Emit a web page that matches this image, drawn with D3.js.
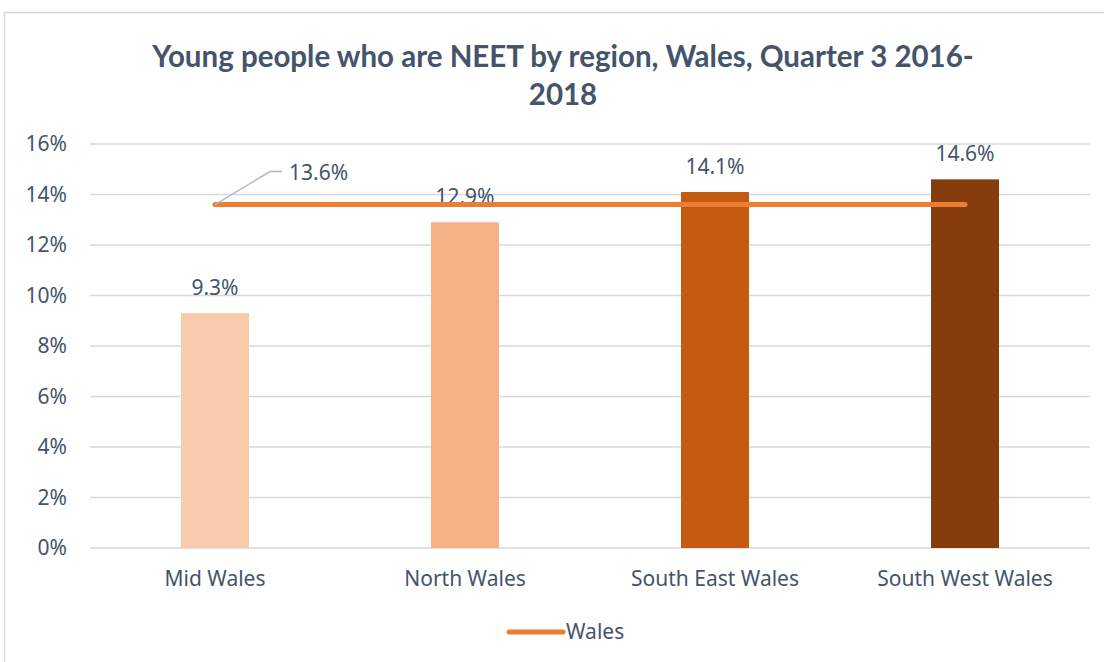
<!DOCTYPE html>
<html>
<head>
<meta charset="utf-8">
<script src="https://cdn.jsdelivr.net/npm/d3@7"></script>
<style>
  body { margin: 0; background: #fff; }
</style>
</head>
<body>
<svg id="chart"></svg>
<script>
var regions = ["Mid Wales", "North Wales", "South East Wales", "South West Wales"];
var neetRates = [9.3, 12.9, 14.1, 14.6];
var walesRate = 13.6;
var barColors = ["#F8CBAD", "#F4B183", "#C55A11", "#843C0C"];
var yTicks = [0, 2, 4, 6, 8, 10, 12, 14, 16];

var W = 1104, H = 662;
var margin = {top: 144, right: 14, bottom: 114, left: 90};
var width = W - margin.left - margin.right,
    height = H - margin.top - margin.bottom;
var FONT = "'Noto Sans', sans-serif";
var FS = "21px";
var INK = "#44546A";

var svg = d3.select("#chart").attr("width", W).attr("height", H);

// chart frame
svg.append("rect")
    .attr("x", 4.5).attr("y", 12.5)
    .attr("width", W + 10).attr("height", H + 10)
    .attr("fill", "none").attr("stroke", "#D9D9D9").attr("stroke-width", 1.5);

// title
var title = svg.append("text")
    .attr("text-anchor", "middle")
    .style("font-family", "Lato, sans-serif")
    .style("font-weight", "bold")
    .style("font-size", "29.5px")
    .style("fill", INK);
title.append("tspan").attr("x", 563).attr("y", 67).text("Young people who are NEET by region, Wales, Quarter 3 2016-");
title.append("tspan").attr("x", 563).attr("y", 105).text("2018");

var g = svg.append("g").attr("transform", "translate(" + margin.left + "," + margin.top + ")");

var x = d3.scaleBand().domain(regions).range([0, width]);
var y = d3.scaleLinear().domain([0, 16]).range([height, 0]);
var barW = 68;

// gridlines
g.selectAll(".grid")
    .data(yTicks)
    .enter().append("line")
    .attr("x1", 0).attr("x2", width)
    .attr("y1", d => y(d)).attr("y2", d => y(d))
    .attr("stroke", "#D9D9D9").attr("stroke-width", 1.5);

// y axis
var yAxis = d3.axisLeft(y).tickValues(yTicks).tickFormat(d => d + "%").tickSize(0).tickPadding(23);
g.append("g").call(yAxis)
    .call(a => a.select(".domain").remove())
    .selectAll("text")
    .style("font-family", FONT).style("font-size", FS).style("fill", INK);

// x axis
var xAxis = d3.axisBottom(x).tickSize(0).tickPadding(23);
g.append("g").attr("transform", "translate(0," + height + ")").call(xAxis)
    .call(a => a.select(".domain").remove())
    .selectAll("text")
    .style("font-family", FONT).style("font-size", FS).style("fill", INK);

// bars
g.selectAll(".bar")
    .data(regions)
    .enter().append("rect")
    .attr("x", d => x(d) + x.bandwidth() / 2 - barW / 2)
    .attr("width", barW)
    .attr("y", (d, i) => y(neetRates[i]))
    .attr("height", (d, i) => height - y(neetRates[i]))
    .attr("fill", (d, i) => barColors[i]);

// bar labels
g.selectAll(".lbl")
    .data(regions)
    .enter().append("text")
    .attr("x", d => x(d) + x.bandwidth() / 2)
    .attr("y", (d, i) => y(neetRates[i]) - 18)
    .attr("text-anchor", "middle")
    .style("font-family", FONT).style("font-size", FS).style("fill", INK)
    .text((d, i) => neetRates[i].toFixed(1) + "%");

// Wales average line
var cx = d => x(d) + x.bandwidth() / 2;
var line = d3.line().x(d => cx(d)).y(() => y(walesRate));
g.append("path")
    .attr("d", line([regions[0], regions[regions.length - 1]]))
    .attr("stroke", "#ED7D31").attr("stroke-width", 5)
    .attr("stroke-linecap", "round").attr("fill", "none");

// leader line + label
var lx = cx(regions[0]), ly = y(walesRate);
g.append("path")
    .attr("d", "M" + lx + "," + ly + "L" + (lx + 55) + "," + (ly - 33) + "H" + (lx + 67))
    .attr("stroke", "#ADB9CA").attr("stroke-width", 1.5).attr("fill", "none");
g.append("text")
    .attr("x", lx + 74).attr("y", ly - 25)
    .style("font-family", FONT).style("font-size", FS).style("fill", INK)
    .text(walesRate.toFixed(1) + "%");

// legend
var leg = svg.append("g").attr("transform", "translate(507,632)");
leg.append("line").attr("x1", 2).attr("x2", 56).attr("y1", 0).attr("y2", 0)
    .attr("stroke", "#ED7D31").attr("stroke-width", 5).attr("stroke-linecap", "round");
leg.append("text").attr("x", 59).attr("y", 7)
    .style("font-family", FONT).style("font-size", FS).style("fill", INK)
    .text("Wales");
</script>
</body>
</html>
